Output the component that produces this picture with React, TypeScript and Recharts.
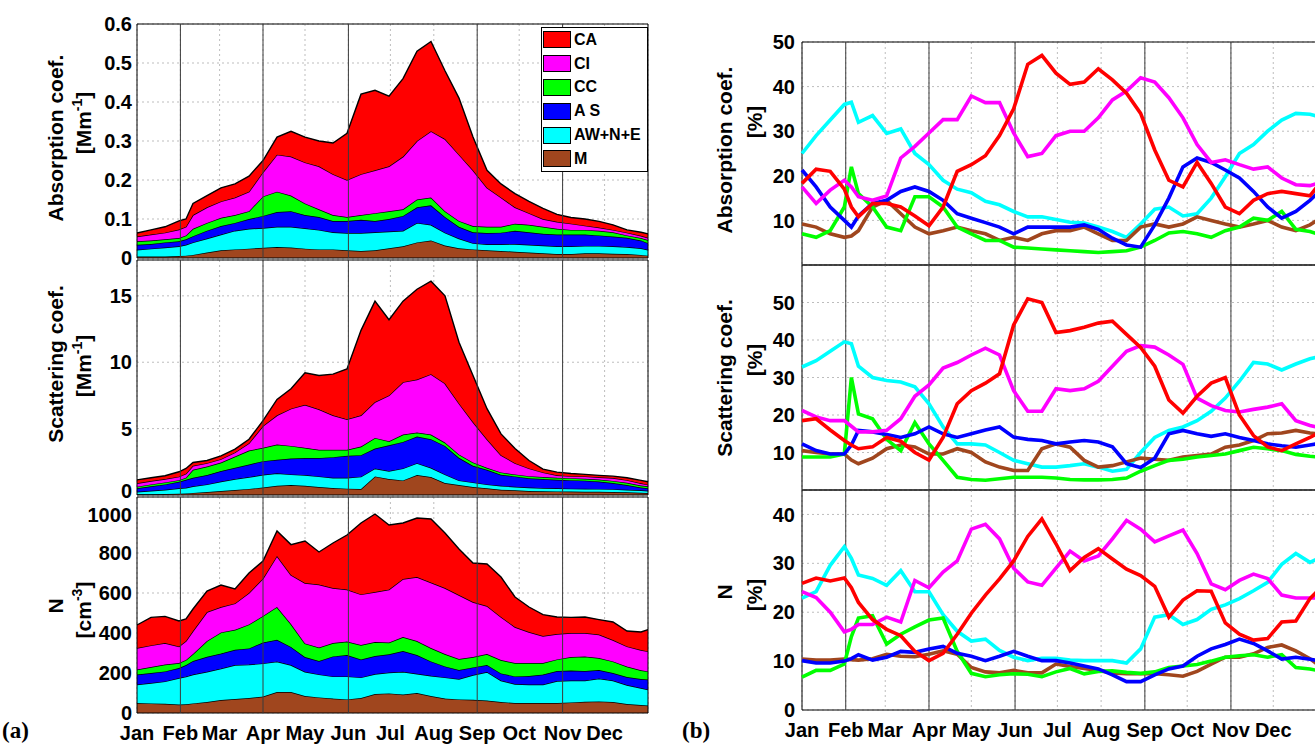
import React from 'react';
import {
  AreaChart, Area, LineChart, Line, XAxis, YAxis, CartesianGrid,
  ReferenceLine, ReferenceArea, Legend,
} from 'recharts';

// ---------------- data ----------------
const days = [0, 10, 20, 30, 35, 40, 50, 60, 70, 80, 90, 100, 110, 120, 130, 140, 150, 160, 170, 180, 190, 200, 210, 220, 230, 240, 250, 260, 270, 280, 290, 300, 310, 320, 330, 340, 350, 360, 365];
const monthTicks = [0, 31, 59, 90, 120, 151, 181, 212, 243, 273, 304, 334];
const monthLabels = ['Jan', 'Feb', 'Mar', 'Apr', 'May', 'Jun', 'Jul', 'Aug', 'Sep', 'Oct', 'Nov', 'Dec'];
const seasonDays = [31, 90, 151, 243, 304];

// (a) absorption coefficient contributions [Mm^-1]
const absM = [.004, .004, .004, .005, .006, .008, .014, .020, .022, .024, .026, .028, .027, .024, .022, .022, .020, .018, .020, .025, .030, .040, .045, .032, .025, .022, .020, .018, .016, .014, .012, .010, .010, .012, .012, .011, .010, .008, .006];
const absAW = [.017, .020, .023, .025, .028, .032, .036, .040, .048, .051, .051, .052, .053, .052, .050, .044, .044, .046, .046, .043, .040, .050, .040, .033, .025, .016, .015, .017, .020, .020, .020, .020, .020, .019, .019, .019, .018, .017, .015];
const absAS = [.013, .012, .013, .013, .014, .016, .020, .022, .020, .025, .031, .038, .040, .034, .033, .029, .031, .034, .029, .032, .038, .040, .050, .040, .030, .028, .029, .030, .034, .032, .030, .030, .030, .029, .027, .025, .024, .020, .017];
const absCC = [.009, .009, .008, .008, .010, .019, .020, .021, .020, .020, .050, .052, .040, .030, .020, .015, .010, .012, .020, .020, .017, .020, .020, .015, .015, .016, .016, .015, .018, .019, .018, .015, .012, .012, .012, .011, .006, .006, .008];
const absCI = [.012, .015, .017, .022, .022, .035, .040, .042, .045, .050, .062, .095, .100, .105, .110, .105, .095, .105, .110, .115, .135, .150, .170, .185, .170, .143, .100, .075, .042, .030, .020, .018, .016, .011, .008, .006, .007, .006, .006];
const absCA = [.009, .012, .015, .022, .020, .030, .030, .035, .035, .040, .030, .045, .065, .065, .065, .080, .120, .205, .205, .180, .200, .230, .230, .175, .145, .085, .045, .035, .035, .030, .027, .019, .016, .017, .016, .013, .007, .009, .010];

// (a) scattering coefficient contributions [Mm^-1]
const scaM = [.05, .06, .08, .10, .12, .16, .22, .30, .38, .46, .56, .70, .75, .70, .60, .52, .48, .45, 1.40, 1.20, 1.10, 1.50, 1.35, .90, .75, .60, .50, .40, .35, .30, .28, .27, .26, .25, .24, .22, .20, .17, .15];
const scaAW = [.20, .26, .32, .40, .43, .49, .58, .72, .82, .89, .96, .94, .80, .80, .80, .78, .82, .93, .60, .60, .90, .90, .70, .65, .35, .35, .30, .30, .27, .26, .24, .23, .22, .22, .22, .22, .20, .18, .17];
const scaAS = [.25, .33, .40, .50, .60, .65, .70, .78, .85, .95, 1.03, 1.01, 1.20, 1.28, 1.38, 1.55, 1.65, 1.62, 1.50, 1.95, 2.00, 2.00, 2.15, 2.15, 1.70, 1.25, 1.10, .82, .78, .70, .68, .65, .64, .61, .55, .46, .35, .21, .18];
const scaCC = [.13, .15, .15, .12, .15, .60, .65, .65, .85, 1.05, 1.00, 1.15, .95, .77, .62, .55, .45, .65, .80, .30, .55, .30, .35, .25, .25, .25, .15, .18, .15, .16, .16, .15, .15, .14, .15, .16, .17, .16, .15];
const scaCI = [.25, .25, .25, .26, .30, .30, .25, .25, .30, .55, 1.65, 2.20, 2.80, 3.25, 3.05, 2.60, 2.30, 2.35, 2.70, 3.45, 3.95, 4.00, 4.55, 4.45, 3.85, 3.05, 2.15, 1.30, .85, .58, .34, .18, .15, .18, .18, .22, .20, .16, .13];
const scaCA = [.26, .25, .25, .37, .40, .25, .20, .25, .25, .30, .40, 1.20, 1.50, 2.40, 2.55, 3.10, 3.80, 6.40, 7.60, 5.70, 6.10, 6.80, 7.00, 6.60, 4.60, 3.50, 2.30, 1.60, 1.10, .60, .25, .24, .20, .15, .14, .14, .18, .22, .22];

// (a) number concentration contributions [cm^-3]
const numM = [50, 48, 46, 42, 44, 48, 55, 65, 70, 75, 82, 105, 105, 85, 78, 72, 68, 75, 95, 98, 92, 100, 85, 72, 68, 66, 62, 55, 50, 50, 50, 50, 53, 56, 58, 55, 45, 40, 37];
const numAW = [92, 102, 112, 133, 138, 144, 151, 157, 170, 167, 166, 152, 135, 121, 115, 111, 115, 103, 100, 104, 114, 96, 101, 106, 102, 124, 143, 107, 95, 92, 92, 110, 109, 106, 114, 107, 95, 85, 80];
const numAS = [50, 50, 50, 50, 58, 68, 75, 75, 76, 81, 104, 109, 90, 74, 67, 100, 107, 90, 90, 92, 104, 94, 72, 55, 45, 38, 35, 36, 38, 43, 50, 50, 50, 48, 43, 38, 40, 45, 50];
const numCC = [25, 30, 34, 25, 25, 35, 79, 106, 100, 120, 133, 164, 115, 68, 67, 67, 67, 72, 70, 58, 70, 70, 67, 62, 55, 52, 55, 67, 67, 65, 58, 58, 68, 72, 60, 58, 52, 44, 41];
const numCI = [108, 108, 108, 83, 95, 115, 145, 127, 132, 157, 187, 255, 245, 302, 315, 275, 260, 253, 250, 265, 290, 320, 327, 330, 320, 275, 240, 215, 180, 155, 135, 127, 120, 118, 117, 107, 101, 101, 100];
const numCA = [115, 140, 133, 127, 110, 110, 105, 110, 72, 100, 88, 125, 152, 210, 163, 225, 273, 357, 390, 323, 280, 295, 318, 275, 230, 195, 210, 200, 150, 125, 107, 85, 78, 80, 75, 90, 77, 90, 109];

// (b) absorption coefficient shares [%]
const pAbsCA = [18.3, 21.5, 21, 17, 13, 10.8, 13.8, 13.8, 13, 11, 8.8, 13, 21, 22.5, 24.5, 29, 35, 45, 47, 43, 40.5, 41, 44, 41.5, 38.5, 34, 25.8, 19, 17.5, 23, 18.3, 13, 11.5, 14.5, 16, 16.5, 16, 15.5, 17.5];
const pAbsCI = [17.5, 13.8, 16.8, 19, 17.5, 15.3, 14.5, 15.5, 24, 26.6, 29.6, 32.6, 32.6, 37.9, 36.4, 36.4, 29.6, 24.3, 25, 29, 30, 30, 33, 37, 39, 42, 41, 37.5, 33, 27, 23, 23.6, 22.5, 21.5, 22, 19.5, 18, 17.8, 18.3];
const pAbsCC = [7, 6.2, 7.7, 13, 22, 16, 13, 8.5, 7.7, 15.3, 15.3, 13, 8.5, 7, 5.5, 5.5, 4, 3.8, 3.6, 3.4, 3.2, 3, 2.8, 3, 3.2, 4, 5.5, 7.2, 7.5, 7, 6.2, 7.7, 8.5, 10.5, 10, 12, 8, 7.5, 7];
const pAbsAS = [21.3, 17.5, 13, 10, 8.5, 11, 13.8, 14.5, 16.5, 17.5, 16.5, 14.5, 11.5, 10.5, 9.5, 8.5, 7, 8.5, 8.5, 8.5, 8.5, 9, 8, 6, 4.5, 4, 9, 15, 22, 24, 23, 21.3, 19.5, 16.5, 13, 10.5, 12, 14.5, 16];
const pAbsAW = [25, 29, 32.5, 36, 36.5, 32, 33.5, 29.5, 30.5, 25, 22.5, 19, 17, 16.2, 14.3, 13.5, 12, 10.8, 10.8, 10.2, 9.6, 9.4, 8.5, 7.5, 6.2, 9.2, 12.5, 13, 11, 11.5, 15, 19.8, 25, 27, 30, 32.5, 34, 33.8, 33.4];
const pAbsM = [9.2, 8.5, 7, 6.2, 6.5, 7.7, 13, 14.5, 11.5, 8.5, 7, 7.7, 8.5, 7.7, 7, 5.5, 6.2, 5.5, 7, 7.7, 7.7, 8.5, 7, 5.5, 5.5, 8.5, 9.2, 8.5, 9.2, 10.8, 10, 9.2, 8.5, 9.2, 10, 8.5, 7.7, 9, 10];

// (b) scattering coefficient shares [%]
const pScaCA = [18.5, 19, 16, 13.2, 12, 11, 11.5, 14, 13, 10, 8, 14, 23, 26.5, 28.5, 31, 44, 51, 50, 42, 42.5, 43.4, 44.5, 45, 41.5, 38, 33, 24, 20.5, 25, 28.5, 30, 20, 14.5, 11.5, 10.5, 12.3, 14, 15];
const pScaCI = [21.2, 19.5, 18.5, 18.5, 17, 15.5, 15.5, 15.9, 19, 25, 28, 32.5, 34, 36, 37.8, 36, 26.5, 21, 21, 27, 26.5, 27, 29, 33, 37, 38.5, 38.1, 36, 33.5, 24.5, 22.5, 21.2, 20.8, 21.5, 22.1, 23, 18.5, 17.2, 16.8];
const pScaCC = [8.8, 8.8, 8.8, 9.6, 30, 20.3, 19, 13.5, 10.5, 18, 12.3, 7.9, 3.4, 2.8, 2.6, 3, 3.4, 3.4, 3.4, 3.2, 2.8, 2.7, 2.7, 2.8, 3.2, 5, 6.5, 7.9, 8.2, 8.8, 9.2, 9.6, 10.5, 11.4, 11, 10.5, 9.5, 9, 8.8];
const pScaAS = [12.3, 10.5, 9.6, 9.6, 12, 15.9, 15.5, 14.8, 14, 15, 16.8, 15, 14, 15, 16, 16.8, 14.1, 13.5, 13.2, 12.3, 12.8, 13.2, 12.8, 11.5, 7, 6, 8.5, 15, 15.9, 15, 14.3, 15, 14, 13.2, 12.3, 11.8, 11.4, 12, 12.3];
const pScaAW = [32.8, 34.5, 37, 39.5, 39, 33, 30, 29.2, 28.8, 27.5, 23, 16.8, 12.3, 12.3, 12, 10, 7.9, 7, 6.1, 6.1, 6.5, 7, 6.1, 5, 5.5, 10, 14, 15.9, 16.8, 18.5, 21, 24.5, 29, 34, 33.6, 32, 33.6, 35, 35.4];
const pScaM = [10.5, 10, 9.6, 9.6, 8, 7, 8.5, 11, 12, 11.5, 9.6, 9.6, 11, 10, 7.5, 6.1, 5.2, 5.2, 11, 12.3, 11.4, 7.9, 6.1, 6.5, 7.5, 8.5, 8.2, 7.9, 8.8, 9.2, 9.6, 11.4, 12, 13.2, 15, 15.2, 15.9, 15.2, 15];

// (b) number concentration shares [%]
const pNumCA = [25.9, 27, 26.4, 27, 25, 22, 18.5, 16.5, 15.2, 12, 10.1, 11.6, 15.5, 19.8, 23.5, 26.8, 30.5, 35.5, 39.1, 34, 28.5, 31.2, 33, 30.9, 28.8, 27.5, 25.3, 19, 22.5, 24.4, 24.3, 17.8, 15.5, 14.3, 14.6, 18, 18.2, 22.8, 24.2];
const pNumCI = [24.2, 23, 20, 16, 16.5, 17.5, 17.5, 19, 18, 26.5, 25, 28.2, 30.5, 37, 38, 35, 29, 26.2, 25.5, 29, 32.5, 30.5, 31.5, 35, 38.8, 37, 34.4, 35.6, 36.8, 32, 25.8, 24.6, 26.5, 27.8, 26.9, 23.5, 22.9, 22.9, 22.9];
const pNumCC = [6.7, 8.1, 8.1, 9.4, 15, 18.8, 19.3, 13.5, 15.5, 17, 18.4, 18.8, 12, 7.5, 6.8, 7.2, 7.4, 7.3, 6.8, 7.8, 8.5, 7.4, 7.9, 8, 7.7, 7.5, 7.8, 8.7, 9, 9.3, 10, 10.8, 11.1, 11.3, 10.8, 11.3, 8.7, 8.4, 8.1];
const pNumAS = [10.1, 9.6, 9.6, 10, 10.5, 11.3, 10.2, 10.8, 12, 11.8, 12.5, 13, 11.6, 11, 10.1, 11, 12, 11, 10.1, 10.1, 9.6, 9, 8.4, 7.2, 5.8, 5.8, 7.2, 8.4, 9, 11, 12.5, 13.4, 14.5, 13.6, 12.1, 10.4, 10.8, 10.4, 10.1];
const pNumAW = [22.9, 24.2, 29.6, 33.4, 31, 27.6, 26.9, 25.5, 28.5, 24.2, 24.2, 19.5, 16.1, 14.1, 14.5, 12.2, 10.8, 10.1, 10.6, 10.6, 10.2, 10.1, 10.1, 10.1, 9.6, 12.5, 19, 19.5, 17.5, 18.5, 20.6, 21.5, 22.8, 24.4, 26.1, 29.8, 32, 30.2, 30.9];
const pNumM = [10.4, 10.2, 10.2, 10.4, 10.3, 10.2, 10.5, 11.4, 11, 10.9, 11.4, 12.1, 11.4, 8.7, 7.8, 7.6, 8.1, 7.6, 7.6, 9.4, 8.9, 8.5, 8.1, 7.6, 7.4, 7.4, 7.4, 7.2, 6.9, 7.9, 9.4, 10.8, 10.8, 11.5, 12.8, 13.3, 12.1, 10.5, 9.4];

const absTicks = [0, 0.1, 0.2, 0.3, 0.4, 0.5, 0.6];
const scaTicks = [0, 5, 10, 15];
const numTicks = [0, 200, 400, 600, 800, 1000];
const pAbsTicks = [10, 20, 30, 40, 50];
const pScaTicks = [10, 20, 30, 40, 50];
const pNumTicks = [0, 10, 20, 30, 40];

// ---------------- styling ----------------
const FONT = '"Liberation Sans", Arial, Helvetica, sans-serif';
const SOURCES = [
  { key: 'CA', name: 'CA', color: '#FF0000' },
  { key: 'CI', name: 'CI', color: '#FF00FF' },
  { key: 'CC', name: 'CC', color: '#00FF00' },
  { key: 'AS', name: 'A S', color: '#0000FF' },
  { key: 'AW', name: 'AW+N+E', color: '#00FFFF' },
  { key: 'M', name: 'M', color: '#A0461E' },
];
const colorOf = (k: string) => SOURCES.find((s) => s.key === k)!.color;
const STACK_ORDER = ['M', 'AW', 'AS', 'CC', 'CI', 'CA'];
const LINE_ORDER = ['AW', 'M', 'CC', 'AS', 'CI', 'CA'];

type Series = { CA: number[]; CI: number[]; CC: number[]; AS: number[]; AW: number[]; M: number[] };
const buildRows = (s: Series) =>
  days.map((d, i) => ({ day: d, CA: s.CA[i], CI: s.CI[i], CC: s.CC[i], AS: s.AS[i], AW: s.AW[i], M: s.M[i] }));

const absRows = buildRows({ CA: absCA, CI: absCI, CC: absCC, AS: absAS, AW: absAW, M: absM });
const scaRows = buildRows({ CA: scaCA, CI: scaCI, CC: scaCC, AS: scaAS, AW: scaAW, M: scaM });
const numRows = buildRows({ CA: numCA, CI: numCI, CC: numCC, AS: numAS, AW: numAW, M: numM });
const pAbsRows = buildRows({ CA: pAbsCA, CI: pAbsCI, CC: pAbsCC, AS: pAbsAS, AW: pAbsAW, M: pAbsM });
const pScaRows = buildRows({ CA: pScaCA, CI: pScaCI, CC: pScaCC, AS: pScaAS, AW: pScaAW, M: pScaM });
const pNumRows = buildRows({ CA: pNumCA, CI: pNumCI, CC: pNumCC, AS: pNumAS, AW: pNumAW, M: pNumM });

const tickStyle = { fill: '#000', fontSize: 20, fontWeight: 700, fontFamily: FONT };
const monthFmt = (v: number) => monthLabels[monthTicks.indexOf(v)] ?? '';

const renderLegend = () => (
  <div style={{ border: '1px solid #000', background: '#fff', width: 105, fontFamily: FONT }}>
    {SOURCES.map((s) => (
      <div key={s.key} style={{ display: 'flex', alignItems: 'center', height: 23.8 }}>
        <span style={{ display: 'inline-block', width: 26, height: 15, background: s.color, border: '1px solid #000', marginLeft: 1, marginRight: 3 }} />
        <span style={{ fontWeight: 700, fontSize: 16, lineHeight: '16px', color: '#000' }}>{s.name}</span>
      </div>
    ))}
  </div>
);

// y tick with an optional small vertical nudge for a given value (keeps stacked panels' labels apart)
const makeYTick = (fmt: ((v: number) => string) | undefined, nudge: Record<string, number>) => (props: any) => {
  const { x, y, payload } = props;
  const v = payload.value as number;
  const label = fmt ? fmt(v) : String(v);
  const dy = nudge[String(v)] ?? 0;
  return (
    <text x={x} y={y + dy} dy="0.355em" textAnchor="end" fill="#000" fontSize={20} fontWeight={700} fontFamily={FONT}>
      {label}
    </text>
  );
};

type PanelProps = {
  rows: any[];
  left: number;
  top: number;
  width: number;
  height: number;
  margin: { top: number; right: number; bottom: number; left: number };
  domain: [number, number];
  ticks: number[];
  fmt?: (v: number) => string;
  nudge?: Record<string, number>;
  xHeight: number;
  yWidth: number;
  yGap: number;
  xGap: number;
  legend?: boolean;
  kind: 'stack' | 'line';
};

function Panel(p: PanelProps) {
  const Chart: any = p.kind === 'stack' ? AreaChart : LineChart;
  const showX = p.xHeight > 0;
  return (
    <div style={{ position: 'absolute', left: p.left, top: p.top }}>
      <Chart width={p.width} height={p.height} data={p.rows} margin={p.margin}>
        <CartesianGrid stroke="#bdbdbd" strokeDasharray="2 3" strokeWidth={1} />
        <XAxis
          dataKey="day" type="number" domain={[0, 365]} ticks={monthTicks} interval={0}
          hide={!showX} height={showX ? p.xHeight : 0}
          tickFormatter={monthFmt} tick={tickStyle} tickLine={false} axisLine={false} tickSize={0} tickMargin={p.xGap}
        />
        <YAxis
          type="number" domain={p.domain} ticks={p.ticks} interval={0} width={p.yWidth}
          tick={makeYTick(p.fmt, p.nudge ?? {})} tickLine={false} axisLine={false} tickSize={0} tickMargin={p.yGap}
        />
        {p.kind === 'stack'
          ? STACK_ORDER.map((k) => (
              <Area key={k} type="linear" dataKey={k} name={k} stackId="s" fill={colorOf(k)} fillOpacity={1}
                stroke="#000" strokeWidth={1.4} dot={false} activeDot={false} isAnimationActive={false} />
            ))
          : null}
        {seasonDays.map((d) => (
          <ReferenceLine key={'r' + d} x={d} stroke="#3a3a3a" strokeWidth={1} />
        ))}
        {p.kind === 'line'
          ? LINE_ORDER.map((k) => (
              <Line key={k} type="linear" dataKey={k} name={k} stroke={colorOf(k)} strokeWidth={3.6}
                dot={false} activeDot={false} isAnimationActive={false} />
            ))
          : null}
        <ReferenceArea x1={0} x2={365} y1={p.domain[0]} y2={p.domain[1]} fill="none" stroke="#000" strokeWidth={1} ifOverflow="visible" />
        {p.legend ? (
          <Legend layout="horizontal" verticalAlign="middle" align="center" content={renderLegend}
            wrapperStyle={{ left: 541, top: 27, width: 107, height: 'auto' }} />
        ) : null}
      </Chart>
    </div>
  );
}

const absFmt = (v: number) => (v === 0 ? '0' : v.toFixed(1));

function VTitle({ x, y, children, size = 21 }: { x: number; y: number; children: React.ReactNode; size?: number }) {
  return (
    <text x={x} y={y} transform={`rotate(-90 ${x} ${y})`} textAnchor="middle" fontFamily={FONT} fontWeight={700} fontSize={size} fill="#000">
      {children}
    </text>
  );
}

const sup = (s: string) => (
  <>
    <tspan fontSize={14} dy={-9}>{s}</tspan>
    <tspan dy={9}>]</tspan>
  </>
);

const SERIF = '"Liberation Serif", "Times New Roman", serif';

export default function App() {
  return (
    <div style={{ position: 'absolute', left: 0, top: 0, width: 1315, height: 745, overflow: 'hidden', background: '#fff' }}>
      {/* (a) absolute values */}
      <Panel kind="stack" rows={absRows} left={0} top={0} width={660} height={268}
        margin={{ top: 24, right: 12, bottom: 10, left: 0 }} domain={[0, 0.6]} ticks={absTicks} fmt={absFmt}
        xHeight={0} yWidth={137} yGap={5} xGap={10} legend />
      <Panel kind="stack" rows={scaRows} left={0} top={250} width={660} height={255}
        margin={{ top: 10, right: 12, bottom: 10, left: 0 }} domain={[0, 17.7]} ticks={scaTicks} nudge={{ '0': -4 }}
        xHeight={0} yWidth={137} yGap={5} xGap={10} />
      <Panel kind="stack" rows={numRows} left={0} top={487} width={660} height={258}
        margin={{ top: 10, right: 12, bottom: 0, left: 0 }} domain={[0, 1080]} ticks={numTicks} nudge={{ '1000': 2 }}
        xHeight={32} yWidth={137} yGap={5} xGap={13} />

      {/* (b) relative contributions */}
      <Panel kind="line" rows={pAbsRows} left={690} top={0} width={640} height={275}
        margin={{ top: 42, right: 13, bottom: 10, left: 0 }} domain={[0, 50]} ticks={pAbsTicks}
        xHeight={0} yWidth={112} yGap={7} xGap={11} />
      <Panel kind="line" rows={pScaRows} left={690} top={255} width={640} height={245}
        margin={{ top: 10, right: 13, bottom: 10, left: 0 }} domain={[0, 60]} ticks={pScaTicks}
        xHeight={0} yWidth={112} yGap={7} xGap={11} />
      <Panel kind="line" rows={pNumRows} left={690} top={480} width={640} height={265}
        margin={{ top: 10, right: 13, bottom: 0, left: 0 }} domain={[0, 45]} ticks={pNumTicks}
        xHeight={35} yWidth={112} yGap={7} xGap={13} />

      <svg width={1315} height={745} style={{ position: 'absolute', left: 0, top: 0, pointerEvents: 'none' }}>
        <VTitle x={63} y={138}>Absorption coef.</VTitle>
        <VTitle x={91} y={123}>[Mm{sup('-1')}</VTitle>
        <VTitle x={63} y={364}>Scattering coef.</VTitle>
        <VTitle x={91} y={366}>[Mm{sup('-1')}</VTitle>
        <VTitle x={63} y={606}>N</VTitle>
        <VTitle x={91} y={610}>[cm{sup('-3')}</VTitle>

        <VTitle x={732} y={150}>Absorption coef.</VTitle>
        <VTitle x={762} y={122}>[%]</VTitle>
        <VTitle x={732} y={378}>Scattering coef.</VTitle>
        <VTitle x={762} y={360}>[%]</VTitle>
        <VTitle x={732} y={592}>N</VTitle>
        <VTitle x={762} y={595}>[%]</VTitle>

        <text x={2} y={738} fontFamily={SERIF} fontWeight={700} fontSize={23} fill="#000">(a)</text>
        <text x={682} y={738} fontFamily={SERIF} fontWeight={700} fontSize={23} fill="#000">(b)</text>
      </svg>
    </div>
  );
}
